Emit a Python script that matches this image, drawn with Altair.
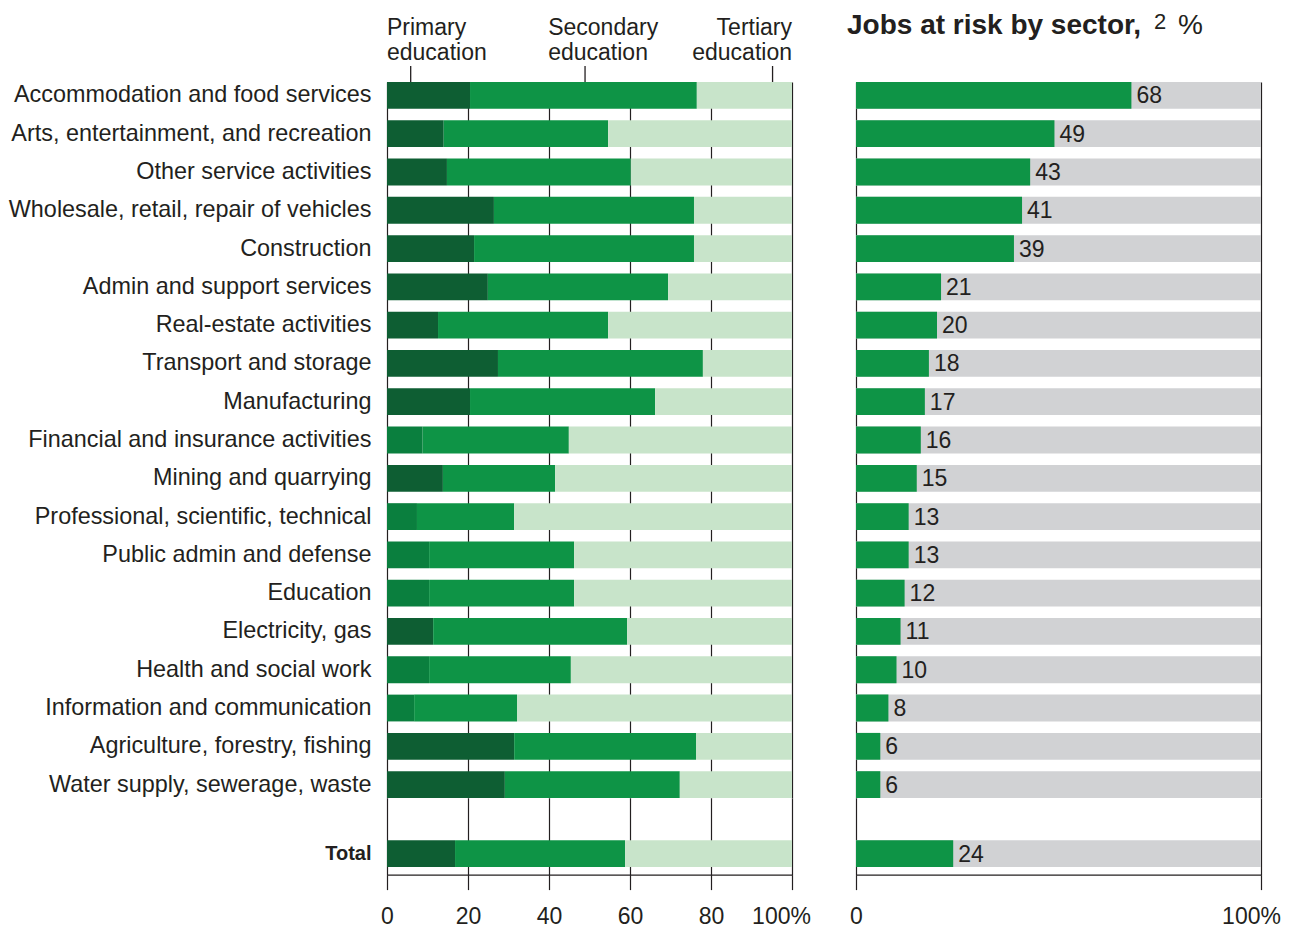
import altair as alt
import pandas as pd

sectors = [
    "Accommodation and food services",
    "Arts, entertainment, and recreation",
    "Other service activities",
    "Wholesale, retail, repair of vehicles",
    "Construction",
    "Admin and support services",
    "Real-estate activities",
    "Transport and storage",
    "Manufacturing",
    "Financial and insurance activities",
    "Mining and quarrying",
    "Professional, scientific, technical",
    "Public admin and defense",
    "Education",
    "Electricity, gas",
    "Health and social work",
    "Information and communication",
    "Agriculture, forestry, fishing",
    "Water supply, sewerage, waste",
]
primary = [20.5, 14.0, 14.8, 26.4, 21.5, 24.9, 12.6, 27.4, 20.5, 8.8, 13.8, 7.4, 10.4, 10.4, 11.4, 10.4, 6.7, 31.4, 29.1]
secondary = [56.0, 40.6, 45.4, 49.4, 54.3, 44.5, 42.0, 50.6, 45.7, 36.1, 27.7, 24.0, 35.8, 35.8, 47.9, 35.0, 25.4, 44.9, 43.2]
tertiary = [23.5, 45.4, 39.8, 24.2, 24.2, 30.6, 45.4, 22.0, 33.8, 55.1, 58.5, 68.6, 53.8, 53.8, 40.7, 54.6, 67.9, 23.7, 27.7]
at_risk = [68, 49, 43, 41, 39, 21, 20, 18, 17, 16, 15, 13, 13, 12, 11, 10, 8, 6, 6]

# sectors whose primary-education segment is drawn in the lighter dark green
lighter_primary = [
    "Financial and insurance activities",
    "Professional, scientific, technical",
    "Public admin and defense",
    "Education",
    "Health and social work",
    "Information and communication",
]

total_label = ["Total"]
total_primary = [16.8]
total_secondary = [42.0]
total_tertiary = [41.2]
total_at_risk = [24]

levels = ["Primary", "Secondary", "Tertiary"]
header_left_text = ["Primary\neducation", "Secondary\neducation"]
header_left_x = [0, 39.8]
header_right_text = ["Tertiary\neducation"]
header_right_x = [100]
header_tick_x = [5.85, 48.9, 95.2]
x_ticks = [0, 20, 40, 60, 80, 100]
edge_ticks = [0, 100]
risk_title = "Jobs at risk by sector,"
risk_sup = "2"
risk_unit = "%"

INK = "#231f20"
FONT = "Liberation Sans"
shade_domain = ["Primary", "Primary (light)", "Secondary", "Tertiary"]
shade_range = ["#0e5e33", "#0a7f3e", "#0e9446", "#c8e4ca"]


def edu_long(names, p, s, t):
    rows = []
    for i, n in enumerate(names):
        for j, (lvl, v) in enumerate(zip(levels, (p[i], s[i], t[i]))):
            shade = lvl
            if lvl == "Primary" and n in lighter_primary:
                shade = "Primary (light)"
            rows.append({"sector": n, "level": lvl, "shade": shade, "value": v, "order": j})
    return pd.DataFrame(rows)


edu_main = edu_long(sectors, primary, secondary, tertiary)
edu_total = edu_long(total_label, total_primary, total_secondary, total_tertiary)
risk_main = pd.DataFrame({"sector": sectors, "risk": at_risk, "full": [100] * len(sectors)})
risk_total = pd.DataFrame({"sector": total_label, "risk": total_at_risk, "full": [100]})

W = 405
H_MAIN = 716
H_TOTAL = 76.6

xscale = alt.Scale(domain=[0, 100], nice=False, zero=True)
y_main_scale = alt.Scale(domain=sectors, paddingInner=0.3, paddingOuter=0)
y_total_scale = alt.Scale(domain=total_label, paddingInner=0, paddingOuter=0.934, align=0.848)

grid_only_axis = lambda vals: alt.Axis(
    values=vals, grid=True, gridColor=INK, gridWidth=1.2, labels=False,
    ticks=False, domain=False, title=None)

bottom_axis = lambda vals, off: alt.Axis(
    values=vals, grid=True, gridColor=INK, gridWidth=1.2,
    domain=True, domainColor=INK, domainWidth=1.2,
    ticks=True, tickColor=INK, tickWidth=1.2, tickSize=15,
    labels=True, labelFontSize=23, labelColor=INK, labelFont=FONT,
    labelPadding=16, labelFlush=False, title=None,
    labelExpr="datum.value == 100 ? '100%' : datum.label",
    labelOffset={"condition": {"test": "datum.value == 100", "value": off}, "value": 0},
)

y_label_axis = lambda weight, size: alt.Axis(
    title=None, ticks=False, domain=False, labelFontSize=size, labelFontWeight=weight,
    labelColor=INK, labelFont=FONT, labelPadding=16, labelLimit=400,
    minExtent=379, maxExtent=379)

color_enc = alt.Color("shade:N", scale=alt.Scale(domain=shade_domain, range=shade_range), legend=None)

# ---------- left main ----------
left_bars = alt.Chart(edu_main).mark_bar().encode(
    x=alt.X("value:Q", stack="zero", scale=xscale, axis=grid_only_axis(x_ticks)),
    y=alt.Y("sector:N", sort=sectors, scale=y_main_scale, axis=y_label_axis("normal", 23.4)),
    color=color_enc,
    order=alt.Order("order:Q"),
)
hdr_left = alt.Chart(pd.DataFrame({"t": header_left_text, "x": header_left_x})).mark_text(
    align="left", baseline="alphabetic", fontSize=23, lineHeight=25, lineBreak="\n",
    color=INK, font=FONT,
).encode(x=alt.X("x:Q", scale=xscale), y=alt.value(-47), text="t:N")
hdr_right = alt.Chart(pd.DataFrame({"t": header_right_text, "x": header_right_x})).mark_text(
    align="right", baseline="alphabetic", fontSize=23, lineHeight=25, lineBreak="\n",
    color=INK, font=FONT,
).encode(x=alt.X("x:Q", scale=xscale), y=alt.value(-47), text="t:N")
hdr_ticks = alt.Chart(pd.DataFrame({"x": header_tick_x})).mark_rule(color=INK, strokeWidth=1.3).encode(
    x=alt.X("x:Q", scale=xscale), y=alt.value(-16), y2=alt.value(0))
left_main = alt.layer(left_bars, hdr_left, hdr_right, hdr_ticks).properties(width=W, height=H_MAIN)

# ---------- right main ----------
r_base = alt.Chart(risk_main)
r_bg = r_base.mark_bar(color="#d1d2d4").encode(
    x=alt.X("full:Q", scale=xscale, axis=grid_only_axis(edge_ticks)),
    y=alt.Y("sector:N", sort=sectors, scale=y_main_scale, axis=None))
r_bar = r_base.mark_bar(color="#0e9446").encode(
    x=alt.X("risk:Q", scale=xscale), y=alt.Y("sector:N", sort=sectors, scale=y_main_scale, axis=None))
r_txt = r_base.mark_text(align="left", baseline="middle", dx=5, dy=1, fontSize=23, color=INK, font=FONT).encode(
    x=alt.X("risk:Q", scale=xscale), y=alt.Y("sector:N", sort=sectors, scale=y_main_scale, axis=None),
    text="risk:Q")
t_main = alt.Chart(pd.DataFrame({"t": [risk_title]})).mark_text(
    align="left", baseline="alphabetic", fontSize=28, fontWeight="bold", color=INK, font=FONT
).encode(x=alt.value(-9), y=alt.value(-48), text="t:N")
t_sup = alt.Chart(pd.DataFrame({"t": [risk_sup]})).mark_text(
    align="left", baseline="alphabetic", fontSize=22, color=INK, font=FONT
).encode(x=alt.value(298), y=alt.value(-53), text="t:N")
t_unit = alt.Chart(pd.DataFrame({"t": [risk_unit]})).mark_text(
    align="left", baseline="alphabetic", fontSize=28, color=INK, font=FONT
).encode(x=alt.value(322), y=alt.value(-48), text="t:N")
right_main = alt.layer(r_bg, r_bar, r_txt, t_main, t_sup, t_unit).properties(width=W, height=H_MAIN)

# ---------- left total ----------
left_total = alt.Chart(edu_total).mark_bar().encode(
    x=alt.X("value:Q", stack="zero", scale=xscale, axis=bottom_axis(x_ticks, -11)),
    y=alt.Y("sector:N", scale=y_total_scale, axis=y_label_axis("bold", 20)),
    color=color_enc,
    order=alt.Order("order:Q"),
).properties(width=W, height=H_TOTAL)

# ---------- right total ----------
rt_base = alt.Chart(risk_total)
rt_bg = rt_base.mark_bar(color="#d1d2d4").encode(
    x=alt.X("full:Q", scale=xscale, axis=bottom_axis(edge_ticks, -10)),
    y=alt.Y("sector:N", scale=y_total_scale, axis=None))
rt_bar = rt_base.mark_bar(color="#0e9446").encode(
    x=alt.X("risk:Q", scale=xscale), y=alt.Y("sector:N", scale=y_total_scale, axis=None))
rt_txt = rt_base.mark_text(align="left", baseline="middle", dx=5, dy=1, fontSize=23, color=INK, font=FONT).encode(
    x=alt.X("risk:Q", scale=xscale), y=alt.Y("sector:N", scale=y_total_scale, axis=None), text="risk:Q")
right_total = alt.layer(rt_bg, rt_bar, rt_txt).properties(width=W, height=H_TOTAL)

chart = alt.concat(
    left_main, right_main, left_total, right_total,
    columns=2, spacing={"row": 0, "column": 64}, bounds="flush",
).properties(
    padding={"top": 3, "left": 0, "right": 0, "bottom": 0}
).configure_view(stroke=None).configure_text(font=FONT)

chart.save("out.html", embed_options={"renderer": "svg", "actions": False})
